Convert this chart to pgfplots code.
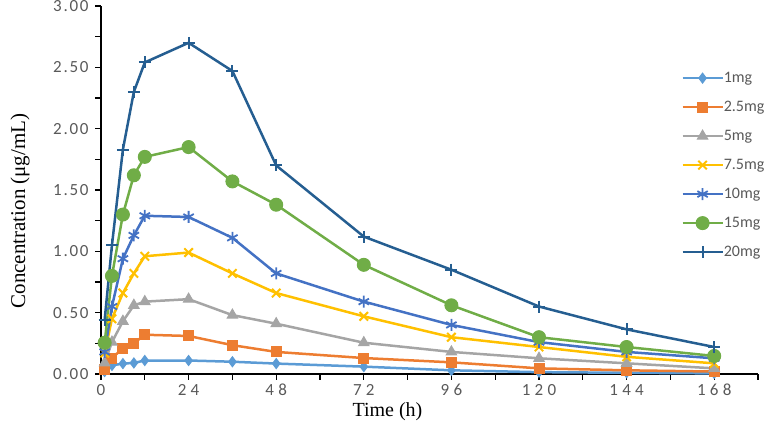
\documentclass[border=0pt]{standalone}
\usepackage{pgfplots}
\pgfplotsset{compat=1.18}
\usepackage{fontspec}
\setmainfont{Liberation Serif}
\newfontfamily\tickfont[LetterSpace=10]{Carlito}
\newfontfamily\xtickfont[LetterSpace=25]{Carlito}
\newfontfamily\legfont{Carlito}
\definecolor{cA}{HTML}{5B9BD5}
\definecolor{cB}{HTML}{ED7D31}
\definecolor{cC}{HTML}{A5A5A5}
\definecolor{cD}{HTML}{FFC000}
\definecolor{cE}{HTML}{4472C4}
\definecolor{cF}{HTML}{70AD47}
\definecolor{cG}{HTML}{255E91}
\definecolor{tgray}{HTML}{595959}
\begin{document}
\begin{tikzpicture}
\path[use as bounding box] (0,0) rectangle (772pt,423pt);
\begin{axis}[
  at={(101pt,49pt)}, anchor=south west,
  scale only axis, width=657pt, height=368pt,
  xmin=0, xmax=180, ymin=0, ymax=3,
  axis lines=left, axis line style={-, line width=1.5pt, black},
  xtick={0,24,48,72,96,120,144,168}, minor xtick={12,36,60,84,108,132,156,180},
  ytick={0,0.5,1,1.5,2,2.5,3}, minor ytick={0.25,0.75,1.25,1.75,2.25,2.75},
  tick align=outside, major tick length=6pt, minor tick length=6pt,
  every tick/.style={black, line width=1.2pt},
  /pgf/number format/assume math mode=true,
  yticklabel style={font=\tickfont\fontsize{17}{17}\selectfont, text=tgray, xshift=-3pt,
    /pgf/number format/fixed, /pgf/number format/fixed zerofill, /pgf/number format/precision=2},
  xticklabel style={font=\xtickfont\fontsize{17}{17}\selectfont, text=tgray, inner sep=1pt, text depth=0pt, yshift=-3pt},
  ylabel={Concentration\hspace{5pt}(μg/mL)\hspace{5pt}},
  ylabel style={at={(axis description cs:-0.123,0.443)}, anchor=center, font=\fontsize{21}{21}\selectfont},
  xlabel={Time (h)},
  xlabel style={at={(axis description cs:0.436,-0.1145)}, anchor=base, inner sep=0pt, text height=13pt, text depth=4pt, font=\fontsize{20}{20}\selectfont},
  clip=false,
  legend style={at={(axis description cs:0.883,0.844)}, anchor=north west, draw=none, fill=none,
    font=\legfont\fontsize{16}{16}\selectfont, text=tgray, row sep=0pt, inner sep=0pt,
    nodes={minimum height=29pt, inner sep=0pt}},
  legend cell align=left,
  legend image code/.code={\draw[mark repeat=2,mark phase=2] plot coordinates {(0pt,0pt) (20pt,0pt) (40pt,0pt)};},
  every axis plot/.append style={line width=2.5pt},
]
\addplot[color=cA, mark=diamond*, mark size=5pt, mark options={line width=1pt}] coordinates {
(1,0.02) (3,0.07) (6,0.085) (9,0.09) (12,0.11) (24,0.11) (36,0.10) (48,0.085) (72,0.06) (96,0.03) (120,0.015) (144,0.01) (168,0.005)};
\addlegendentry{1mg}
\addplot[color=cB, mark=square*, mark size=5pt, mark options={line width=1pt}] coordinates {
(1,0.04) (3,0.13) (6,0.21) (9,0.25) (12,0.32) (24,0.31) (36,0.235) (48,0.18) (72,0.13) (96,0.095) (120,0.046) (144,0.03) (168,0.02)};
\addlegendentry{2.5mg}
\addplot[color=cC, mark=triangle*, mark size=6pt, mark options={line width=1pt}] coordinates {
(1,0.09) (3,0.26) (6,0.43) (9,0.56) (12,0.59) (24,0.61) (36,0.48) (48,0.41) (72,0.255) (96,0.18) (120,0.128) (144,0.087) (168,0.046)};
\addlegendentry{5mg}
\addplot[color=cD, mark=x, mark size=6pt, mark options={line width=2pt}] coordinates {
(1,0.17) (3,0.45) (6,0.66) (9,0.82) (12,0.96) (24,0.99) (36,0.82) (48,0.66) (72,0.47) (96,0.30) (120,0.22) (144,0.14) (168,0.087)};
\addlegendentry{7.5mg}
\addplot[color=cE, mark=asterisk, mark size=6pt, mark options={line width=1.8pt}] coordinates {
(1,0.18) (3,0.55) (6,0.94) (9,1.13) (12,1.29) (24,1.28) (36,1.11) (48,0.82) (72,0.59) (96,0.40) (120,0.26) (144,0.18) (168,0.128)};
\addlegendentry{10mg}
\addplot[color=cF, mark=*, mark size=6.5pt, mark options={line width=1pt}] coordinates {
(1,0.255) (3,0.80) (6,1.30) (9,1.62) (12,1.77) (24,1.85) (36,1.57) (48,1.38) (72,0.89) (96,0.56) (120,0.30) (144,0.22) (168,0.147)};
\addlegendentry{15mg}
\addplot[color=cG, mark=+, mark size=6pt, mark options={line width=2pt}] coordinates {
(1,0.44) (3,1.05) (6,1.83) (9,2.30) (12,2.54) (24,2.70) (36,2.47) (48,1.70) (72,1.12) (96,0.85) (120,0.55) (144,0.364) (168,0.22)};
\addlegendentry{20mg}
\end{axis}
\end{tikzpicture}
\end{document}
